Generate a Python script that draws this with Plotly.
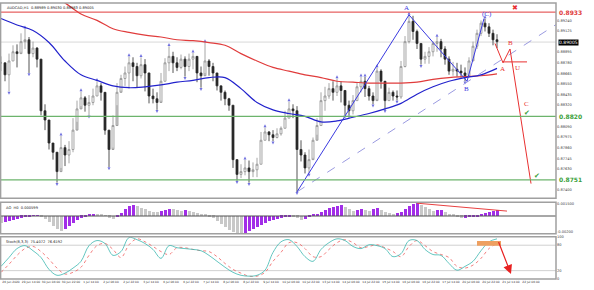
import plotly.graph_objects as go

# ---------------- data ----------------
CLOSE = [0.8878, 0.8865, 0.8880, 0.8890, 0.8888, 0.8901, 0.8903, 0.8888, 0.8894, 0.8882,
         0.8826, 0.8816, 0.8791, 0.8781, 0.8760, 0.8786, 0.8778, 0.8784, 0.8805, 0.8828,
         0.8840, 0.8832, 0.8835, 0.8842, 0.8853, 0.8846, 0.8805, 0.8784, 0.8810, 0.8846,
         0.8861, 0.8867, 0.8878, 0.8874, 0.8864, 0.8876, 0.8867, 0.8842, 0.8839, 0.8835,
         0.8858, 0.8878, 0.8885, 0.8878, 0.8873, 0.8882, 0.8874, 0.8882, 0.8885, 0.8867,
         0.8864, 0.8880, 0.8874, 0.8867, 0.8853, 0.8846, 0.8839, 0.8832, 0.8773, 0.8757,
         0.8760, 0.8764, 0.8760, 0.8762, 0.8768, 0.8794, 0.8803, 0.8800, 0.8797, 0.8801,
         0.8807, 0.8818, 0.8828, 0.8826, 0.8784, 0.8778, 0.8764, 0.8773, 0.8794, 0.8810,
         0.8837, 0.8842, 0.8850, 0.8846, 0.8853, 0.8848, 0.8832, 0.8826, 0.8837, 0.8852,
         0.8858, 0.8850, 0.8842, 0.8837, 0.8869, 0.8858, 0.8837, 0.8846, 0.8842, 0.8841,
         0.8874, 0.8901, 0.8923, 0.8912, 0.8899, 0.8882, 0.8885, 0.8890, 0.8899, 0.8901,
         0.8893, 0.8882, 0.8869, 0.8871, 0.8869, 0.8867, 0.8864, 0.8880, 0.8896, 0.8910,
         0.8921, 0.8917, 0.8910, 0.8903, 0.8901]
HIGH = [0.8885, 0.8878, 0.8888, 0.8897, 0.8898, 0.8910, 0.8915, 0.8906, 0.8901, 0.8895,
        0.8878, 0.8833, 0.8796, 0.8789, 0.8778, 0.8799, 0.8789, 0.8793, 0.8818, 0.8837,
        0.8847, 0.8842, 0.8843, 0.8850, 0.8858, 0.8856, 0.8842, 0.8800, 0.8821, 0.8856,
        0.8865, 0.8874, 0.8885, 0.8884, 0.8878, 0.8884, 0.8882, 0.8864, 0.8850, 0.8846,
        0.8867, 0.8883, 0.8896, 0.8890, 0.8884, 0.8887, 0.8885, 0.8888, 0.8889, 0.8882,
        0.8874, 0.8900, 0.8882, 0.8878, 0.8867, 0.8853, 0.8848, 0.8840, 0.8832, 0.8768,
        0.8768, 0.8773, 0.8772, 0.8770, 0.8775, 0.8803, 0.8808, 0.8804, 0.8805, 0.8807,
        0.8809, 0.8826, 0.8836, 0.8833, 0.8831, 0.8794, 0.8781, 0.8784, 0.8797, 0.8818,
        0.8846, 0.8852, 0.8856, 0.8858, 0.8861, 0.8858, 0.8841, 0.8837, 0.8843, 0.8857,
        0.8863, 0.8863, 0.8853, 0.8846, 0.8873, 0.8871, 0.8855, 0.8851, 0.8848, 0.8848,
        0.8880, 0.8907, 0.8930, 0.8929, 0.8914, 0.8899, 0.8890, 0.8895, 0.8901, 0.8906,
        0.8904, 0.8896, 0.8885, 0.8879, 0.8878, 0.8876, 0.8873, 0.8884, 0.8901, 0.8914,
        0.8924, 0.8926, 0.8921, 0.8914, 0.8909]
LOW = [0.8869, 0.8858, 0.8847, 0.8880, 0.8873, 0.8890, 0.8893, 0.8867, 0.8884, 0.8873,
       0.8821, 0.8805, 0.8784, 0.8773, 0.8748, 0.8764, 0.8766, 0.8769, 0.8781, 0.8814,
       0.8831, 0.8825, 0.8821, 0.8832, 0.8842, 0.8837, 0.8800, 0.8765, 0.8786, 0.8832,
       0.8848, 0.8853, 0.8850, 0.8858, 0.8851, 0.8861, 0.8847, 0.8834, 0.8834, 0.8827,
       0.8837, 0.8858, 0.8869, 0.8867, 0.8869, 0.8871, 0.8863, 0.8869, 0.8871, 0.8857,
       0.8851, 0.8867, 0.8864, 0.8858, 0.8848, 0.8837, 0.8832, 0.8826, 0.8764, 0.8750,
       0.8753, 0.8756, 0.8748, 0.8754, 0.8754, 0.8768, 0.8794, 0.8793, 0.8793, 0.8796,
       0.8799, 0.8807, 0.8818, 0.8818, 0.8738, 0.8771, 0.8758, 0.8758, 0.8775, 0.8800,
       0.8810, 0.8826, 0.8839, 0.8837, 0.8842, 0.8835, 0.8821, 0.8821, 0.8822, 0.8837,
       0.8846, 0.8841, 0.8837, 0.8833, 0.8839, 0.8850, 0.8827, 0.8837, 0.8837, 0.8837,
       0.8839, 0.8873, 0.8899, 0.8903, 0.8893, 0.8876, 0.8877, 0.8877, 0.8885, 0.8890,
       0.8884, 0.8876, 0.8865, 0.8864, 0.8863, 0.8862, 0.8858, 0.8863, 0.8882, 0.8893,
       0.8907, 0.8912, 0.8906, 0.8897, 0.8894]

# moving averages (sampled every 4 bars)
MA_FAST_X = list(range(0, 125, 4))
MA_FAST = [0.8926, 0.8919, 0.8913, 0.8900, 0.8880, 0.8865, 0.8859, 0.8853, 0.8851, 0.8852,
           0.8854, 0.8857, 0.8859, 0.8862, 0.8862, 0.8850, 0.8835, 0.8827, 0.8823, 0.8820,
           0.8814, 0.8815, 0.8819, 0.8823, 0.8828, 0.8834, 0.8844, 0.8852, 0.8858, 0.8862,
           0.8865, 0.8872]
MA_SLOW_X = list(range(12, 125, 4))
MA_SLOW = [0.8953, 0.8943, 0.8931, 0.8924, 0.8915, 0.8911, 0.8908, 0.8906, 0.8903, 0.8902,
           0.8900, 0.8897, 0.8888, 0.8880, 0.8873, 0.8869, 0.8865, 0.8862, 0.8858, 0.8857,
           0.8856, 0.8856, 0.8856, 0.8857, 0.8860, 0.8862, 0.8863, 0.8864, 0.8866]

# horizontal levels
LEVEL_RED = 0.8933
LEVELS_GREEN = [0.8820, 0.8751]
LAST_PRICE = 0.89005

# wave drawing (bar index, price)
ZZ_X = [74, 102, 116.5, 120.75]
ZZ_Y = [0.8738, 0.8930, 0.8858, 0.8926]
TL_X = [74, 145]
TL_Y = [0.8738, 0.8937]
PROJ_X = [123.5, 125.5, 127.25, 132.5]
PROJ_Y = [0.8899, 0.8878, 0.8893, 0.8747]
PROJ_H_X = [125.5, 131.5]
PROJ_H_Y = 0.8879

# Awesome Oscillator
AO = [-0.0007, -0.0006, -0.0005, -0.0004, -0.0003, -0.0002, -0.0001, -0.00005, 0.00002, 0.00005,
      -0.0001, -0.0003, -0.0006, -0.0010, -0.0013, -0.0015, -0.0013, -0.0010, -0.0007, -0.0004,
      -0.0002, -0.00003, 0.0001, 0.0002, 0.00018, 0.0001, -0.00002, -0.0002, -0.0003, -0.0001,
      0.0003, 0.0007, 0.0010, 0.0011, 0.0010, 0.0008, 0.0007, 0.0005, 0.0004, 0.00038,
      0.0005, 0.0006, 0.0007, 0.00068, 0.0006, 0.0005, 0.00058, 0.0005, 0.0004, 0.0003,
      0.0002, 0.0001, -0.00003, -0.0002, -0.0005, -0.0008, -0.0011, -0.0014, -0.0016, -0.0017,
      -0.0018, -0.0017, -0.0015, -0.0013, -0.0011, -0.0009, -0.0007, -0.0005, -0.0004, -0.0003,
      -0.0002, -0.0001, -0.00003, -0.00005, -0.0002, -0.0004, -0.0003, -0.0001, 0.0001, 0.0002,
      0.0004, 0.0006, 0.0008, 0.0009, 0.0010, 0.0011, 0.0009, 0.0007, 0.0005, 0.0006,
      0.0007, 0.0006, 0.0005, 0.0007, 0.0008, 0.0006, 0.0004, 0.0003, 0.0002, 0.00025,
      0.0004, 0.0007, 0.0010, 0.0012, 0.0013, 0.0011, 0.0009, 0.0007, 0.0005, 0.00055,
      0.0006, 0.0004, 0.0002, 0.0001, -0.0001, -0.0002, -0.00018, -0.00015, -0.0001, -0.00005,
      0.0001, 0.0003, 0.0004, 0.0005, 0.0006]
AO_DIV_X = [104, 126.5]
AO_DIV_Y = [0.0013, 0.0005]

# Stochastic (sampled every 2 bars)
STO_X = list(range(0, 125, 2))
STO_MAIN = [30, 51, 72, 79, 67, 51, 23, 9, 14, 26, 42, 79, 91, 84, 56, 65, 98, 93, 84, 70,
            49, 79, 74, 72, 70, 67, 56, 42, 28, 16, 9, 7, 9, 21, 63, 88, 93, 77, 53, 42,
            70, 86, 95, 91, 77, 72, 81, 79, 72, 53, 60, 91, 91, 70, 58, 56, 37, 21, 30, 42,
            67, 88, 95]
STO_SIG = [16, 35, 56, 72, 77, 65, 47, 26, 12, 16, 28, 56, 79, 84, 70, 51, 81, 95, 88, 77,
           65, 58, 74, 74, 70, 67, 65, 53, 37, 23, 14, 7, 7, 16, 42, 63, 86, 86, 72, 53,
           53, 70, 86, 93, 86, 74, 77, 81, 74, 65, 53, 77, 91, 79, 65, 58, 51, 30, 26, 33,
           49, 72, 84]
STO_LEVELS = [80, 20]
STO_BOX_X = [119, 125]
STO_BOX_Y = [79, 90]
STO_ARROW = [(124.25, 91), (127.5, 12)]

PRICE_TICKS = [0.89240, 0.89125, 0.88895, 0.88780, 0.88665, 0.88550, 0.88435, 0.88320,
               0.88090, 0.87975, 0.87860, 0.87745, 0.87630, 0.87400]
DATE_TICKS = ["26 Jun 2020", "29 Jun 14:00", "30 Jun 06:00", "30 Jun 22:00", "1 Jul 14:00",
              "2 Jul 06:00", "2 Jul 22:00", "3 Jul 14:00", "6 Jul 06:00", "6 Jul 22:00",
              "7 Jul 14:00", "8 Jul 06:00", "8 Jul 22:00", "9 Jul 14:00", "10 Jul 06:00",
              "10 Jul 22:00", "13 Jul 14:00", "14 Jul 06:00", "14 Jul 22:00", "15 Jul 14:00",
              "16 Jul 06:00", "16 Jul 22:00", "17 Jul 14:00", "20 Jul 06:00", "20 Jul 22:00",
              "21 Jul 14:00", "22 Jul 06:00"]

# ---------------- geometry helpers ----------------
W, H = 594, 290
def py(px):
    return 1 - px / H
XR = 556 / W
N = len(CLOSE)
BARS = list(range(N))
OPEN = [CLOSE[0]] + CLOSE[:-1]

fig = go.Figure()

fig.add_trace(go.Candlestick(
    x=BARS, open=OPEN, high=HIGH, low=LOW, close=CLOSE,
    increasing=dict(line=dict(color="#8f8f8f", width=0.8), fillcolor="#ffffff"),
    decreasing=dict(line=dict(color="#2a2a2a", width=0.8), fillcolor="#2a2a2a"),
    whiskerwidth=0, showlegend=False, hoverinfo="skip", xaxis="x", yaxis="y"))

fu_x, fu_y, fd_x, fd_y = [], [], [], []
for i in range(2, N - 2):
    if HIGH[i] >= max(HIGH[i-2:i] + HIGH[i+1:i+3]):
        fu_x.append(i); fu_y.append(HIGH[i] + 0.00035)
    if LOW[i] <= min(LOW[i-2:i] + LOW[i+1:i+3]):
        fd_x.append(i); fd_y.append(LOW[i] - 0.00035)
fig.add_trace(go.Scatter(x=fu_x, y=fu_y, mode="markers", yaxis="y",
                         marker=dict(symbol="arrow-up", size=3, color="#7070e0"),
                         showlegend=False, hoverinfo="skip"))
fig.add_trace(go.Scatter(x=fd_x, y=fd_y, mode="markers", yaxis="y",
                         marker=dict(symbol="arrow-down", size=3, color="#7070e0"),
                         showlegend=False, hoverinfo="skip"))

fig.add_trace(go.Scatter(x=MA_SLOW_X, y=MA_SLOW, mode="lines", line=dict(color="#e03c3c", width=1.2),
                         line_shape="spline", yaxis="y", showlegend=False, hoverinfo="skip"))
fig.add_trace(go.Scatter(x=MA_FAST_X, y=MA_FAST, mode="lines", line=dict(color="#2222cc", width=1.2),
                         line_shape="spline", yaxis="y", showlegend=False, hoverinfo="skip"))

fig.add_trace(go.Scatter(x=TL_X, y=TL_Y, mode="lines", line=dict(color="#9a9ae0", width=1, dash="dash"),
                         yaxis="y", showlegend=False, hoverinfo="skip"))
fig.add_trace(go.Scatter(x=ZZ_X, y=ZZ_Y, mode="lines", line=dict(color="#3a3ae0", width=1),
                         yaxis="y", showlegend=False, hoverinfo="skip"))
fig.add_trace(go.Scatter(x=PROJ_X, y=PROJ_Y, mode="lines", line=dict(color="#e83030", width=1),
                         yaxis="y", showlegend=False, hoverinfo="skip"))
fig.add_trace(go.Scatter(x=PROJ_H_X, y=[PROJ_H_Y, PROJ_H_Y], mode="lines", line=dict(color="#e83030", width=1),
                         yaxis="y", showlegend=False, hoverinfo="skip"))

ao_col = ["#a22ee8" if (i > 0 and AO[i] >= AO[i-1]) else "#c8c8c8" for i in range(len(AO))]
fig.add_trace(go.Bar(x=BARS, y=AO, marker=dict(color=ao_col, line=dict(width=0)), width=0.75,
                     yaxis="y2", showlegend=False, hoverinfo="skip"))
fig.add_trace(go.Scatter(x=AO_DIV_X, y=AO_DIV_Y, mode="lines", line=dict(color="#e84040", width=1),
                         yaxis="y2", showlegend=False, hoverinfo="skip"))

fig.add_trace(go.Scatter(x=STO_X, y=STO_SIG, mode="lines", line=dict(color="#f06060", width=0.8, dash="dot"),
                         line_shape="spline", yaxis="y3", showlegend=False, hoverinfo="skip"))
fig.add_trace(go.Scatter(x=STO_X, y=STO_MAIN, mode="lines", line=dict(color="#3cb8b0", width=0.8),
                         line_shape="spline", yaxis="y3", showlegend=False, hoverinfo="skip"))

shapes = []
shapes.append(dict(type="line", xref="x domain", yref="y", x0=0, x1=1, y0=LEVEL_RED, y1=LEVEL_RED,
                   line=dict(color="#e03c3c", width=1)))
for lv in LEVELS_GREEN:
    shapes.append(dict(type="line", xref="x domain", yref="y", x0=0, x1=1, y0=lv, y1=lv,
                       line=dict(color="#6cb46c", width=1.2)))
shapes.append(dict(type="line", xref="x domain", yref="y", x0=0, x1=1, y0=LAST_PRICE, y1=LAST_PRICE,
                   line=dict(color="#d8d8d8", width=1), layer="below"))
shapes.append(dict(type="line", xref="x domain", yref="y2", x0=0, x1=1, y0=0, y1=0,
                   line=dict(color="#505050", width=1)))
for lv in STO_LEVELS:
    shapes.append(dict(type="line", xref="x domain", yref="y3", x0=0, x1=1, y0=lv, y1=lv,
                       line=dict(color="#d0d0d0", width=1), layer="below"))
shapes.append(dict(type="rect", xref="x", yref="y3", x0=STO_BOX_X[0], x1=STO_BOX_X[1],
                   y0=STO_BOX_Y[0], y1=STO_BOX_Y[1], fillcolor="#eea060", line=dict(width=0)))
for top, bot in [(1, 199), (203, 235), (238, 281)]:
    shapes.append(dict(type="rect", xref="paper", yref="paper", x0=0.001, x1=XR, y0=py(bot), y1=py(top),
                       line=dict(color="#a0a0a0", width=1.5)))

ann = []
def txt(x, y, s, color, size=7, yref="y", family="Liberation Serif", **kw):
    ann.append(dict(x=x, y=y, xref="x", yref=yref, text=s, showarrow=False,
                    font=dict(color=color, size=size, family=family), **kw))
txt(101.25, 0.8937, "A", "#3a3ae0")
txt(116.3, 0.8850, "B", "#3a3ae0")
txt(121.6, 0.8931, "(C)", "#3a3ae0")
txt(125.3, 0.8871, "A", "#e83030")
txt(127.3, 0.8899, "B", "#e83030")
txt(131.4, 0.8833, "C", "#e83030")
txt(129.0, 0.8872, "U", "#e83030")
txt(128.5, 0.8937, "✖", "#e83030", size=7, family="DejaVu Sans")
txt(131.6, 0.8824, "✔", "#3aa03a", size=7, family="DejaVu Sans")
txt(134.0, 0.8755, "✔", "#3aa03a", size=7, family="DejaVu Sans")

ann.append(dict(x=STO_ARROW[1][0], y=STO_ARROW[1][1], ax=STO_ARROW[0][0], ay=STO_ARROW[0][1],
                xref="x", yref="y3", axref="x", ayref="y3", showarrow=True, arrowhead=2,
                arrowsize=1.5, arrowwidth=1.2, arrowcolor="#e82020", text=""))

def rlabel(y, s, color, yref="y", bg=None, bold=False, size=6):
    ann.append(dict(x=XR + 0.004, y=y, xref="paper", yref=yref, text=("<b>%s</b>" % s) if bold else s,
                    showarrow=False, xanchor="left", font=dict(color=color, size=size, family="DejaVu Sans"),
                    bgcolor=bg, borderpad=0))
rlabel(LEVEL_RED, "%.4f" % LEVEL_RED, "#e03c3c", bold=True, size=6)
for lv in LEVELS_GREEN:
    rlabel(lv, "%.4f" % lv, "#3aa03a", bold=True, size=6)
rlabel(LAST_PRICE, "%.5f" % LAST_PRICE, "#ffffff", bg="#000000", size=4.5)

HDR = dict(size=3.6, color="#202020", family="DejaVu Sans")
ann.append(dict(x=0.008, y=py(2.5), xref="paper", yref="paper", xanchor="left", yanchor="top", showarrow=False,
                text="AUDCAD,H1  0.88989 0.89030 0.88983 0.89005", font=HDR))
ann.append(dict(x=0.006, y=py(204.5), xref="paper", yref="paper", xanchor="left", yanchor="top", showarrow=False,
                text="AO  H0  0.000599", font=HDR))
ann.append(dict(x=0.006, y=py(239.5), xref="paper", yref="paper", xanchor="left", yanchor="top", showarrow=False,
                text="Stoch(8,3,3)  75.4072  76.6192", font=HDR))

TF = dict(size=3.6, color="#404040", family="DejaVu Sans")
fig.update_layout(
    width=W, height=H, margin=dict(l=0, r=0, t=0, b=0),
    paper_bgcolor="#ffffff", plot_bgcolor="#ffffff",
    shapes=shapes, annotations=ann, showlegend=False, bargap=0,
    xaxis=dict(domain=[0, XR], range=[-0.25, 138.75], anchor="y3", showgrid=False, zeroline=False,
               rangeslider=dict(visible=False), tickangle=0,
               tickvals=[i * 5 + 2.5 for i in range(len(DATE_TICKS))], ticktext=DATE_TICKS,
               tickfont=dict(size=2.9, color="#303030", family="DejaVu Sans"), ticks="", ticklen=0),
    yaxis=dict(domain=[py(199), py(1)], range=[0.87311, 0.89429], side="right", anchor="x",
               showgrid=False, zeroline=False, tickvals=PRICE_TICKS, ticktext=["%.5f" % t for t in PRICE_TICKS],
               tickfont=TF, ticks=""),
    yaxis2=dict(domain=[py(235), py(203)], range=[-0.0018, 0.0014], side="right", anchor="x",
                showgrid=False, zeroline=False, tickvals=[0.0012, -0.0016], ticktext=["0.001500", "-0.00200"],
                tickfont=TF, ticks=""),
    yaxis3=dict(domain=[py(281), py(238)], range=[0, 100], side="right", anchor="x",
                showgrid=False, zeroline=False, tickvals=[100, 80, 20, 0],
                tickfont=TF, ticks=""),
)

fig.write_html("out.html")
